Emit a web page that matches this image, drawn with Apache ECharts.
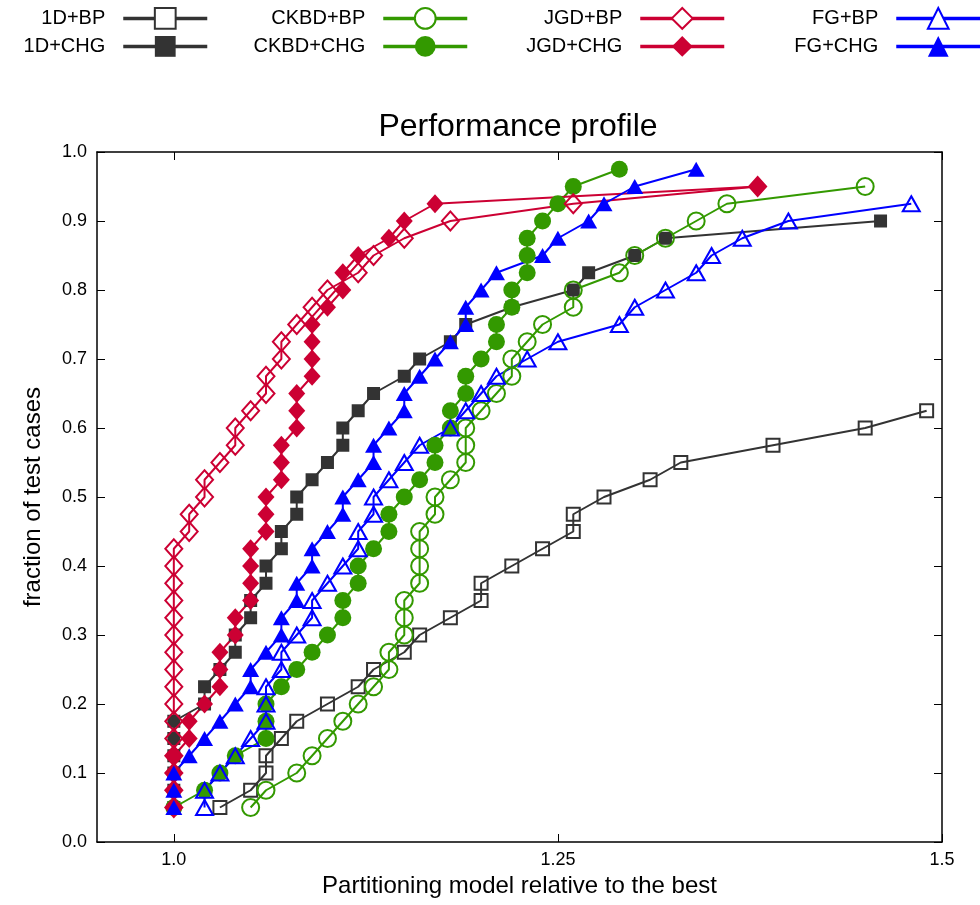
<!DOCTYPE html>
<html>
<head>
<meta charset="utf-8">
<script src="https://cdn.jsdelivr.net/npm/echarts@6/dist/echarts.min.js"></script>
<style>
  html, body { margin: 0; padding: 0; background: #fff; }
  #chart { width: 980px; height: 905px; }
</style>
</head>
<body>
<div id="chart"></div>
<script>
// Fraction of test cases reached at each step (k/40)
const fractionLevels = [0.05, 0.075, 0.1, 0.125, 0.15, 0.175, 0.2, 0.225, 0.25, 0.275,
  0.3, 0.325, 0.35, 0.375, 0.4, 0.425, 0.45, 0.475, 0.5, 0.525, 0.55, 0.575, 0.6, 0.625,
  0.65, 0.675, 0.7, 0.725, 0.75, 0.775, 0.8, 0.825, 0.85, 0.875, 0.9, 0.925, 0.95, 0.975];

// Ratio of each model to the best one, sorted, per method
const ratio1dBP = [1.03, 1.05, 1.06, 1.06, 1.07, 1.08, 1.10, 1.12, 1.13, 1.15, 1.16, 1.18,
  1.20, 1.20, 1.22, 1.24, 1.26, 1.26, 1.28, 1.31, 1.33, 1.39, 1.45, 1.49];
const ratio1dCHG = [1.00, 1.00, 1.00, 1.00, 1.00, 1.00, 1.02, 1.02, 1.03, 1.04, 1.04, 1.05,
  1.05, 1.06, 1.06, 1.07, 1.07, 1.08, 1.08, 1.09, 1.10, 1.11, 1.11, 1.12, 1.13, 1.15, 1.16,
  1.18, 1.19, 1.22, 1.26, 1.27, 1.30, 1.32, 1.46];
const ratioCkbdBP = [1.05, 1.06, 1.08, 1.09, 1.10, 1.11, 1.12, 1.13, 1.14, 1.14, 1.15, 1.15,
  1.15, 1.16, 1.16, 1.16, 1.16, 1.17, 1.17, 1.18, 1.19, 1.19, 1.19, 1.20, 1.21, 1.22, 1.22,
  1.23, 1.24, 1.26, 1.26, 1.29, 1.30, 1.32, 1.34, 1.36, 1.45];
const ratioCkbdCHG = [1.00, 1.02, 1.03, 1.04, 1.06, 1.06, 1.06, 1.07, 1.08, 1.09, 1.10, 1.11,
  1.11, 1.12, 1.12, 1.13, 1.14, 1.14, 1.15, 1.16, 1.17, 1.17, 1.18, 1.18, 1.19, 1.19, 1.20,
  1.21, 1.21, 1.22, 1.22, 1.23, 1.23, 1.23, 1.24, 1.25, 1.26, 1.29];
const ratioJgdBP = [1.00, 1.00, 1.00, 1.00, 1.00, 1.00, 1.00, 1.00, 1.00, 1.00, 1.00, 1.00,
  1.00, 1.00, 1.00, 1.00, 1.01, 1.01, 1.02, 1.02, 1.03, 1.04, 1.04, 1.05, 1.06, 1.06, 1.07,
  1.07, 1.08, 1.09, 1.10, 1.12, 1.13, 1.15, 1.18, 1.26, 1.38];
const ratioJgdCHG = [1.00, 1.00, 1.00, 1.00, 1.01, 1.01, 1.02, 1.03, 1.03, 1.03, 1.04, 1.04,
  1.05, 1.05, 1.05, 1.05, 1.06, 1.06, 1.06, 1.07, 1.07, 1.07, 1.08, 1.08, 1.08, 1.09, 1.09,
  1.09, 1.09, 1.10, 1.11, 1.11, 1.12, 1.14, 1.15, 1.17, 1.38];
const ratioFgBP = [1.02, 1.02, 1.03, 1.04, 1.05, 1.06, 1.06, 1.06, 1.07, 1.07, 1.08, 1.09,
  1.09, 1.10, 1.11, 1.12, 1.12, 1.13, 1.13, 1.14, 1.15, 1.16, 1.18, 1.19, 1.20, 1.21, 1.23,
  1.25, 1.29, 1.30, 1.32, 1.34, 1.35, 1.37, 1.40, 1.48];
const ratioFgCHG = [1.00, 1.00, 1.00, 1.01, 1.02, 1.03, 1.04, 1.05, 1.05, 1.06, 1.07, 1.07,
  1.08, 1.08, 1.09, 1.09, 1.10, 1.11, 1.11, 1.12, 1.13, 1.13, 1.14, 1.15, 1.15, 1.16, 1.17,
  1.18, 1.19, 1.19, 1.20, 1.21, 1.24, 1.25, 1.27, 1.28, 1.30, 1.34];

const seriesNames = ['1D+BP', '1D+CHG', 'CKBD+BP', 'CKBD+CHG', 'JGD+BP', 'JGD+CHG', 'FG+BP', 'FG+CHG'];
const seriesRatios = [ratio1dBP, ratio1dCHG, ratioCkbdBP, ratioCkbdCHG, ratioJgdBP, ratioJgdCHG, ratioFgBP, ratioFgCHG];

const xTickValues = [1.0, 1.25, 1.5];
const xTickLabels = ['1.0', '1.25', '1.5'];

// Drawing styles per method family
const FONT = 'Liberation Sans, Arial, sans-serif';
const familyColor = { '1D': '#333333', 'CKBD': '#339900', 'JGD': '#cc0033', 'FG': '#0000ff' };
const familySymbol = {
  '1D': { symbol: 'rect', size: 13 },
  'CKBD': { symbol: 'circle', size: 17 },
  'JGD': { symbol: 'diamond', size: [17, 19] },
  'FG': { symbol: 'triangle', size: [17, 15] }
};

function buildSeries(name, ratios) {
  const family = name.split('+')[0];
  const hollow = name.endsWith('+BP');
  const color = familyColor[family];
  const sym = familySymbol[family];
  return {
    name: name,
    type: 'line',
    data: ratios.map((r, i) => [r, fractionLevels[i]]),
    symbol: sym.symbol,
    symbolSize: sym.size,
    showAllSymbol: true,
    animation: false,
    lineStyle: { color: color, width: 2 },
    itemStyle: hollow
      ? { color: 'rgba(255,255,255,0)', borderColor: color, borderWidth: 2 }
      : { color: color, borderColor: color, borderWidth: 0 },
    emphasis: { disabled: true }
  };
}

// One key entry per method, laid out in four columns of two rows
const keyColumnsRight = { '1D': 209, 'CKBD': 469, 'JGD': 726, 'FG': 982 };
function buildLegend(name) {
  const family = name.split('+')[0];
  const hollow = name.endsWith('+BP');
  return {
    data: [name],
    orient: 'horizontal',
    align: 'right',
    right: 980 - keyColumnsRight[family],
    top: hollow ? 7 : 36,
    padding: 0,
    itemWidth: 84,
    itemHeight: 26,
    selectedMode: false,
    textStyle: { fontFamily: FONT, fontSize: 20, color: '#000', padding: [0, 13, 0, 0] },
    lineStyle: { width: 3.5 },
    itemStyle: hollow ? { color: '#ffffff', borderWidth: 2 } : {}
  };
}

const chart = echarts.init(document.getElementById('chart'), null, { renderer: 'canvas' });

const frameLine = { show: true, onZero: false, lineStyle: { color: '#000', width: 1.5 } };
const innerTick = { show: true, inside: true, length: 8, lineStyle: { color: '#000', width: 1 } };

chart.setOption({
  backgroundColor: '#ffffff',
  animation: false,
  title: {
    text: 'Performance profile',
    left: 513,
    textAlign: 'center',
    top: 106,
    textStyle: { fontFamily: FONT, fontSize: 32, fontWeight: 'normal', color: '#000' }
  },
  legend: seriesNames.map(buildLegend),
  grid: { left: 97, right: 38, top: 152, bottom: 63, containLabel: false },
  xAxis: [
    {
      type: 'value', position: 'bottom', min: 0.95, max: 1.5,
      axisLine: frameLine,
      axisTick: Object.assign({}, innerTick, { customValues: xTickValues }),
      axisLabel: {
        customValues: xTickValues,
        formatter: v => xTickLabels[xTickValues.findIndex(t => Math.abs(t - v) < 1e-9)] || '',
        fontFamily: FONT, fontSize: 18, color: '#000', margin: 9
      },
      splitLine: { show: false },
      name: 'Partitioning model relative to the best',
      nameLocation: 'middle', nameGap: 32,
      nameTextStyle: { fontFamily: FONT, fontSize: 24, color: '#000' }
    },
    {
      type: 'value', position: 'top', min: 0.95, max: 1.5,
      axisLine: frameLine,
      axisTick: Object.assign({}, innerTick, { customValues: xTickValues }),
      axisLabel: { show: false },
      splitLine: { show: false }
    }
  ],
  yAxis: [
    {
      type: 'value', position: 'left', min: 0, max: 1, interval: 0.1,
      axisLine: frameLine,
      axisTick: innerTick,
      axisLabel: { formatter: v => v.toFixed(1), fontFamily: FONT, fontSize: 18, color: '#000', margin: 10 },
      splitLine: { show: false },
      name: 'fraction of test cases',
      nameLocation: 'middle', nameGap: 52, nameRotate: 90,
      nameTextStyle: { fontFamily: FONT, fontSize: 24, color: '#000' }
    },
    {
      type: 'value', position: 'right', min: 0, max: 1, interval: 0.1,
      axisLine: frameLine,
      axisTick: innerTick,
      axisLabel: { show: false },
      splitLine: { show: false }
    }
  ],
  series: seriesNames.map((n, i) => buildSeries(n, seriesRatios[i]))
});
</script>
</body>
</html>
